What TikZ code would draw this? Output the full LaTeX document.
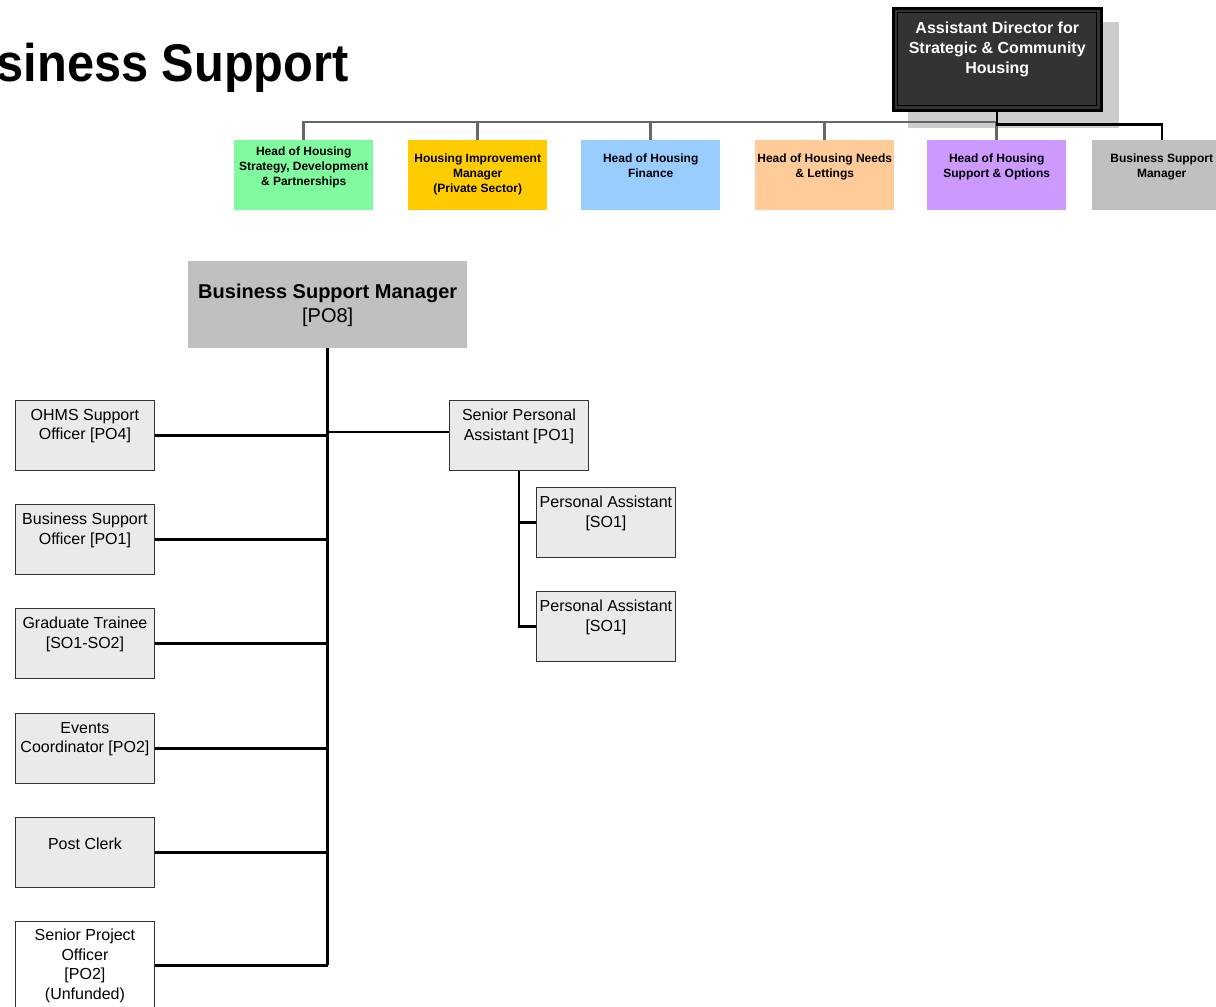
\documentclass[tikz,border=0pt]{standalone}
\usepackage{fontspec}
\setmainfont{Liberation Sans}
\definecolor{boxgray}{HTML}{EAEAEA}
\definecolor{midgray}{HTML}{C0C0C0}
\definecolor{shadowgray}{HTML}{CCCCCC}
\definecolor{darkfill}{HTML}{333333}
\definecolor{busgray}{HTML}{666666}
\definecolor{hgreen}{HTML}{80FA9F}
\definecolor{hyellow}{HTML}{FFCC00}
\definecolor{hblue}{HTML}{99CCFF}
\definecolor{hpeach}{HTML}{FFCC99}
\definecolor{hlilac}{HTML}{CC99FF}
\begin{document}
\begin{tikzpicture}[x=1pt,y=-1pt,
  staff/.style={draw=black!80, line width=0.9pt, fill=boxgray, minimum width=139pt,
    minimum height=70pt, inner sep=0pt, anchor=north west},
  head/.style={minimum width=139pt, minimum height=70pt, inner sep=0pt, anchor=north west},
  lbl/.style={anchor=north, inner sep=0pt, align=center, font=\fontsize{16}{19.5}\selectfont},
  hlbl/.style={anchor=north, inner sep=0pt, align=center, font=\bfseries\fontsize{12}{15}\selectfont},
  link/.style={line width=2.2pt},
  trunk/.style={line width=2.8pt},
  bus/.style={line width=2.5pt, draw=busgray}]
\clip (0,0) rectangle (1216,1007);
\useasboundingbox (0,0) rectangle (1216,1007);

% page title, running off the left edge
\node[anchor=base east, inner sep=0pt, xscale=0.92, font=\bfseries\fontsize{53}{60}\selectfont] (title) at (349,81) {Business Support};

% assistant director with drop shadow and double frame
\node[anchor=north west, fill=shadowgray, minimum width=211pt, minimum height=106pt, inner sep=0pt] (shadow) at (908,22) {};
\node[anchor=north west, fill=darkfill, draw=black, line width=2.5pt, minimum width=208pt, minimum height=102pt, inner sep=0pt] (ad) at (892,7) {};
\node[draw=black, line width=1.4pt, minimum width=199pt, minimum height=93pt, inner sep=0pt] (adin) at (ad.center) {};
\node[anchor=north, inner sep=0pt, align=center, text=white, font=\bfseries\fontsize{16}{20}\selectfont] (adtext) at ([yshift=-15pt]ad.north) {Assistant Director for\\Strategic \& Community\\Housing};

% heads of service
\node[head, fill=hgreen]  (g1) at (234,140) {};
\node[head, fill=hyellow] (g2) at (408,140) {};
\node[head, fill=hblue]   (g3) at (581,140) {};
\node[head, fill=hpeach]  (g4) at (755,140) {};
\node[head, fill=hlilac]  (g5) at (927,140) {};
\node[head, fill=midgray] (g6) at (1092,140) {};
\node[hlbl] (g1t) at ([yshift=-7pt]g1.north) {Head of Housing\\Strategy, Development\\\& Partnerships};
\node[hlbl] (g2t) at ([yshift=-14pt]g2.north) {Housing Improvement\\Manager\\(Private Sector)};
\node[hlbl] (g3t) at ([yshift=-14pt]g3.north) {Head of Housing\\Finance};
\node[hlbl] (g4t) at ([yshift=-14pt]g4.north) {Head of Housing Needs\\\& Lettings};
\node[hlbl] (g5t) at ([yshift=-14pt]g5.north) {Head of Housing\\Support \& Options};
\node[hlbl] (g6t) at ([yshift=-14pt]g6.north) {Business Support\\Manager};

% reporting lines from the assistant director
\coordinate (busend) at (996,122);
\draw[bus] (g1.north) |- (busend);
\foreach \g in {g2,g3,g4,g5} \draw[bus] (\g.north) -- (\g.north |- busend);
\draw[link] (ad.south) -- ++(0,13) -| (g6.north);

% business support manager
\node[anchor=north west, fill=midgray, minimum width=279pt, minimum height=87pt, inner sep=0pt] (bsm) at (188,261) {};
\node[anchor=north, inner sep=0pt, align=center, font=\fontsize{20}{24}\selectfont] (bsmt) at ([yshift=-23pt]bsm.north) {\textbf{Business Support Manager}\\{}[PO8]};

% staff reporting to the manager
\node[staff] (l1) at (15,400) {};
\node[staff] (l2) at (15,504) {};
\node[staff] (l3) at (15,608) {};
\node[staff] (l4) at (15,713) {};
\node[staff] (l5) at (15,817) {};
\node[staff, fill=white, minimum height=88pt] (l6) at (15,921) {};
\node[lbl] (l1t) at ([yshift=-9pt]l1.north) {OHMS Support\\Officer [PO4]};
\node[lbl] (l2t) at ([yshift=-9pt]l2.north) {Business Support\\Officer [PO1]};
\node[lbl] (l3t) at ([yshift=-9pt]l3.north) {Graduate Trainee\\{}[SO1-SO2]};
\node[lbl] (l4t) at ([yshift=-9pt]l4.north) {Events\\Coordinator [PO2]};
\node[lbl] (l5t) at ([yshift=-21pt]l5.north) {Post Clerk};
\node[lbl] (l6t) at ([yshift=-8pt]l6.north) {Senior Project\\Officer\\{}[PO2]\\(Unfunded)};

\node[staff] (spa) at (449,400) {};
\node[staff] (pa1) at (536,487) {};
\node[staff] (pa2) at (536,591) {};
\node[lbl] (spat) at ([yshift=-9pt]spa.north) {Senior Personal\\Assistant [PO1]};
\node[lbl] (pa1t) at ([yshift=-9pt]pa1.north) {Personal Assistant\\{}[SO1]};
\node[lbl] (pa2t) at ([yshift=-9pt]pa2.north) {Personal Assistant\\{}[SO1]};

% connectors
\draw[trunk] (bsm.south) -- (bsm.south |- l6.east);
\foreach \b in {l1,l2,l3,l4,l5,l6} \draw[link] (\b.east) -- (\b.east -| bsm.south);
\coordinate (spajoin) at (328,432);
\draw[link] (spajoin) -- (spajoin -| spa.west);
\draw[link] (spa.south) |- (pa2.west);
\draw[link] (pa1.west) -- (pa1.west -| spa.south);
\end{tikzpicture}
\end{document}
